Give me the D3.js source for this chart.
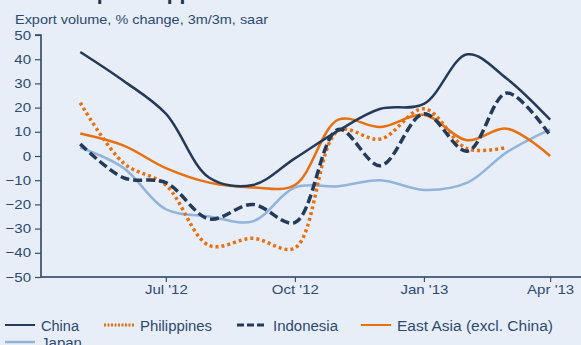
<!DOCTYPE html>
<html>
<head>
<meta charset="utf-8">
<script src="https://cdn.jsdelivr.net/npm/d3@7"></script>
<style>
  html, body { margin: 0; padding: 0; background: #e7eef7; }
  svg { display: block; font-family: "Liberation Sans", Arial, sans-serif; }
</style>
</head>
<body>
<svg id="chart" width="581" height="345"></svg>
<script>
// Monthly observations, May 2012 – Apr 2013
const months = ["2012-05-01","2012-06-01","2012-07-01","2012-08-01","2012-09-01","2012-10-01",
                "2012-11-01","2012-12-01","2013-01-01","2013-02-01","2013-03-01","2013-04-01"];
const china       = [43, 31, 17.5, -9, -12, -1, 10.5, 19.5, 21.5, 42, 32, 15];
const philippines = [22, -3, -12, -37, -34, -38, 10.5, 7, 19.5, 3, 3.5, null];
const indonesia   = [5, -9, -11, -26, -20, -27.5, 11, -4, 17.5, 2, 26, 8.5];
const eastAsia    = [9.3, 4.3, -5, -11, -13, -12, 15, 12, 17, 6.5, 11.3, 0];
const japan       = [3.5, -5, -22, -25, -27, -13, -12.5, -10, -14, -11, 1.5, 11];

const yTicks = [50, 40, 30, 20, 10, 0, -10, -20, -30, -40, -50];
const xTickDates = ["2012-07-01","2012-10-01","2013-01-01","2013-04-01"];
const xTickLabels = ["Jul '12","Oct '12","Jan '13","Apr '13"];

const subtitle = "Export volume, % change, 3m/3m, saar";
const title = "Exports approach a turn";

const parse = d3.utcParse("%Y-%m-%d");
const dates = months.map(parse);

const navy = "#243a59";
const orange = "#e8700f";
const lightBlue = "#93b4da";
const textCol = "#2e4a70";

const series = [
  { name: "Japan", values: japan, color: lightBlue, width: 2.5, dash: null },
  { name: "East Asia (excl. China)", values: eastAsia, color: orange, width: 2.5, dash: null },
  { name: "Philippines", values: philippines, color: orange, width: 3.5, dash: "3,3" },
  { name: "Indonesia", values: indonesia, color: navy, width: 3.5, dash: "9,4" },
  { name: "China", values: china, color: navy, width: 2.5, dash: null }
];

// Widen text horizontally by a factor (the typeface runs a little wide)
function widen(sel, k) {
  sel.each(function () {
    const w = this.getComputedTextLength();
    this.setAttribute("textLength", w * k);
    this.setAttribute("lengthAdjust", "spacingAndGlyphs");
  });
}

const svg = d3.select("#chart");

const x = d3.scaleUtc()
  .domain([parse("2012-04-03"), parse("2013-04-23")])
  .range([41, 581]);
const y = d3.scaleLinear().domain([-50, 50]).range([277, 35]);

// Title (runs off the top edge) and subtitle
svg.append("text")
  .attr("x", 71).attr("y", 0)
  .attr("font-size", 21).attr("font-weight", "bold")
  .attr("fill", "#1f3554")
  .text(title);

svg.append("text")
  .attr("x", 15).attr("y", 24)
  .attr("font-size", 13)
  .attr("fill", textCol)
  .attr("textLength", 253)
  .attr("lengthAdjust", "spacingAndGlyphs")
  .text(subtitle);

// Y axis
const yAxis = d3.axisLeft(y).tickValues(yTicks).tickSize(6).tickPadding(4)
  .tickFormat(d3.format("d"));
const gy = svg.append("g").attr("transform", "translate(41,0)").call(yAxis);
gy.select(".domain").attr("stroke", navy).attr("stroke-width", 1.5)
  .attr("d", `M-6,${y(50)}H0V${y(-50)}`);
gy.selectAll(".tick line").attr("stroke", "#3a4f6a").attr("stroke-width", 1.2);
gy.selectAll(".tick text").attr("fill", textCol).attr("font-size", 13)
  .attr("font-family", "Liberation Sans, Arial, sans-serif")
  .call(widen, 1.155);

// X axis
const xAxis = d3.axisBottom(x).tickValues(xTickDates.map(parse))
  .tickSize(5).tickPadding(3)
  .tickFormat((d, i) => xTickLabels[i]);
const gx = svg.append("g").attr("transform", `translate(0,${y(-50)})`).call(xAxis);
gx.select(".domain").attr("stroke", navy).attr("stroke-width", 1.5)
  .attr("d", `M41,0H581`);
gx.selectAll(".tick line").attr("stroke", "#3a4f6a").attr("stroke-width", 1.2);
gx.selectAll(".tick text").attr("fill", textCol).attr("font-size", 13)
  .attr("font-family", "Liberation Sans, Arial, sans-serif")
  .call(widen, 1.155);

// Smoothed lines through the monthly points
const line = d3.line()
  .defined(d => d.v != null)
  .x(d => x(d.date))
  .y(d => y(d.v))
  .curve(d3.curveCatmullRom.alpha(0.5));

series.forEach(s => {
  const pts = dates.map((date, i) => ({ date, v: s.values[i] }));
  svg.append("path")
    .datum(pts)
    .attr("d", line)
    .attr("fill", "none")
    .attr("stroke", s.color)
    .attr("stroke-width", s.width)
    .attr("stroke-dasharray", s.dash)
    .attr("stroke-linejoin", "round");
});

// Legend
const legendItems = [
  { name: "China", color: navy, width: 2, dash: null, x: 5, y: 325, w: 38 },
  { name: "Philippines", color: orange, width: 3, dash: "2,1.5", x: 104, y: 325, w: 72 },
  { name: "Indonesia", color: navy, width: 3, dash: "7,3", x: 237, y: 325, w: 65 },
  { name: "East Asia (excl. China)", color: orange, width: 2, dash: null, x: 361, y: 325, w: 156 },
  { name: "Japan", color: lightBlue, width: 2.5, dash: null, x: 5, y: 342, w: 41 }
];
const lg = svg.append("g");
legendItems.forEach(it => {
  lg.append("line")
    .attr("x1", it.x).attr("x2", it.x + 30)
    .attr("y1", it.y).attr("y2", it.y)
    .attr("stroke", it.color).attr("stroke-width", it.width)
    .attr("stroke-dasharray", it.dash);
  lg.append("text")
    .attr("x", it.x + 36).attr("y", it.y + 5.5)
    .attr("font-size", 14).attr("fill", textCol)
    .attr("textLength", it.w)
    .attr("lengthAdjust", "spacingAndGlyphs")
    .text(it.name);
});
</script>
</body>
</html>
